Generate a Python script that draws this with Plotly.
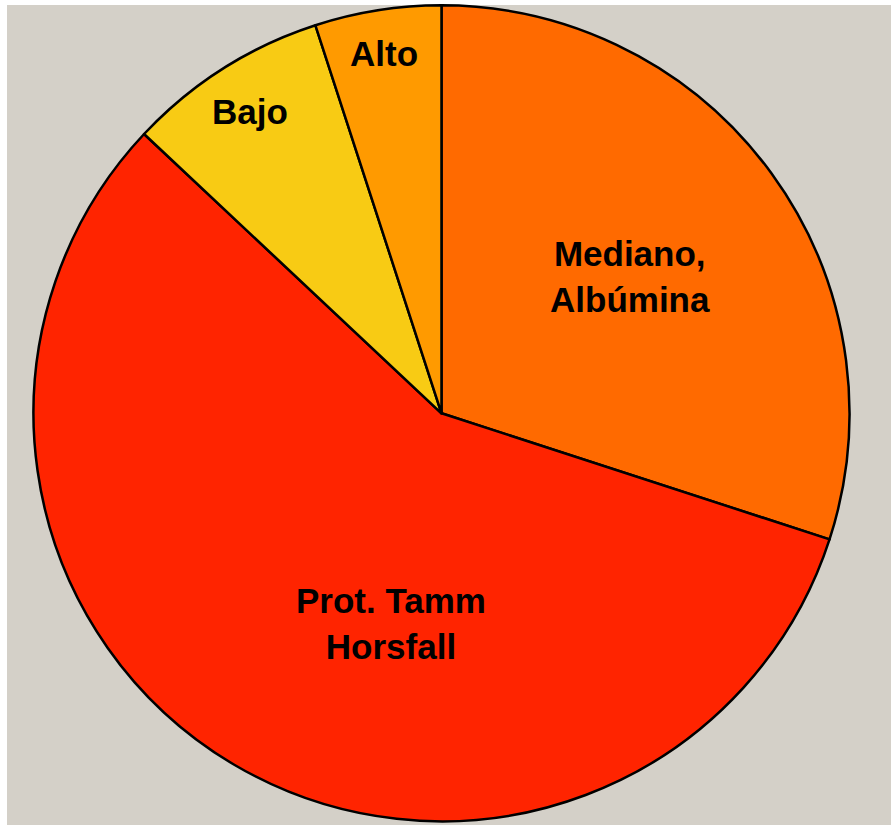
import math
import plotly.graph_objects as go

# Composition of urinary protein fractions (percent of total)
labels = ["Mediano,<br>Albúmina", "Prot. Tamm<br>Horsfall", "Bajo", "Alto"]
values = [30, 57, 8, 5]
colors = ["#FF6A00", "#FF2400", "#F8CB14", "#FF9A00"]

# Label placement: fraction of radius from the centre, and angular nudge (deg)
label_radius = [0.57, 0.53, 0.877, 0.894]
label_shift = [0, -17, 0, 0]

W, H = 891, 825
ML, MT = 7, 5                      # white strip on the left and top
PW, PH = W - ML, H - MT            # plotting area size
CX_PX, CY_PX, R_PX = 441.5, 413.3, 408.0

dom_x = [(CX_PX - R_PX - ML) / PW, (CX_PX + R_PX - ML) / PW]
dom_y = [1 - (CY_PX + R_PX - MT) / PH, 1 - (CY_PX - R_PX - MT) / PH]

fig = go.Figure(
    go.Pie(
        labels=labels,
        values=values,
        sort=False,
        direction="clockwise",
        rotation=0,
        marker=dict(colors=colors, line=dict(color="black", width=2.5)),
        textinfo="none",
        hoverinfo="label+percent",
        domain=dict(x=dom_x, y=dom_y),
        showlegend=False,
    )
)

# Slice labels placed along each slice's mid-angle
total = sum(values)
cx = (CX_PX - ML) / PW
cy = 1 - (CY_PX - MT) / PH
annotations = []
start = 0.0
for lab, v, rf, sh in zip(labels, values, label_radius, label_shift):
    span = 360.0 * v / total
    ang = math.radians(start + span / 2 + sh)
    start += span
    annotations.append(dict(
        x=cx + rf * R_PX * math.sin(ang) / PW,
        y=cy + rf * R_PX * math.cos(ang) / PH,
        xref="paper", yref="paper",
        text=lab, showarrow=False,
        xanchor="center", yanchor="middle",
        font=dict(family="Liberation Sans, Arial, sans-serif", size=35,
                  color="black", weight="bold"),
    ))

fig.update_layout(
    width=W, height=H,
    margin=dict(l=ML, t=MT, r=0, b=0, pad=0),
    paper_bgcolor="white",
    shapes=[dict(type="rect", xref="paper", yref="paper", x0=0, y0=0, x1=1, y1=1,
                 fillcolor="#D4D0C8", line=dict(width=0), layer="below")],
    annotations=annotations,
)

fig.write_html("out.html")
